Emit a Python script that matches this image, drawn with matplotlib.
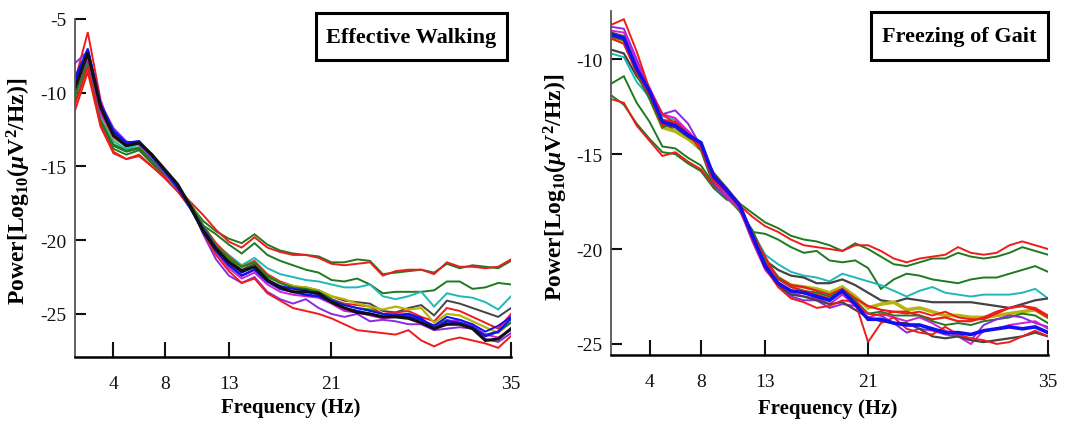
#!/usr/bin/env python3
# Power spectra per channel: effective walking vs freezing of gait

import matplotlib
matplotlib.use('Agg')
import matplotlib.pyplot as plt
from matplotlib.patches import Rectangle

FREQ_HZ = [1, 2, 3, 4, 5, 6, 7, 8, 9, 10, 11, 12, 13, 14, 15, 16, 17, 18,
           19, 20, 21, 22, 23, 24, 25, 26, 27, 28, 29, 30, 31, 32, 33, 34, 35]
X_TICKS = [4, 8, 13, 21, 35]
EW_Y_TICKS = [-25, -20, -15, -10, -5]
FOG_Y_TICKS = [-25, -20, -15, -10]

# Effective walking, log10 power per channel
EW_RED_UP = [-11.2, -8.6, -12.3, -14.1, -14.5, -14.2, -15.0, -15.7, -16.5, -17.4,
             -18.3, -19.3, -20.1, -20.5, -19.8, -20.5, -20.8, -21.0, -21.0, -21.2,
             -21.6, -21.7, -21.6, -21.5, -22.4, -22.1, -22.0, -22.0, -22.3, -21.5,
             -21.8, -21.8, -21.9, -21.8, -21.3]
EW_GREEN_UP = [-10.6, -8.2, -12.0, -13.8, -14.2, -13.9, -14.8, -15.6, -16.5, -17.6,
               -18.7, -19.4, -19.9, -20.2, -19.6, -20.3, -20.7, -20.9, -21.0, -21.1,
               -21.5, -21.5, -21.3, -21.4, -22.3, -22.2, -22.1, -22.0, -22.2, -21.6,
               -21.9, -21.7, -21.8, -21.9, -21.4]
EW_GREEN_MID = [-10.2, -7.9, -11.8, -13.5, -13.9, -13.7, -14.6, -15.5, -16.6, -17.8,
                -19.0, -19.6, -20.3, -20.9, -20.2, -21.0, -21.4, -21.7, -22.0, -22.2,
                -22.7, -22.8, -22.6, -23.0, -23.6, -23.5, -23.5, -23.5, -23.4, -22.8,
                -22.8, -23.3, -23.2, -22.9, -23.0]
EW_CYAN = [-9.9, -7.6, -11.5, -13.3, -13.8, -13.5, -14.5, -15.5, -16.6, -17.9,
           -19.3, -20.3, -21.0, -21.7, -21.2, -21.9, -22.3, -22.5, -22.7, -22.8,
           -23.0, -23.2, -23.2, -23.0, -23.8, -24.0, -23.8, -23.5, -24.5, -23.6,
           -23.8, -23.9, -24.2, -24.7, -23.8]
EW_GRAY = [-9.6, -7.5, -11.3, -13.1, -13.6, -13.4, -14.4, -15.4, -16.5, -17.8,
           -19.4, -20.5, -21.3, -22.0, -21.6, -22.5, -22.9, -23.2, -23.2, -23.4,
           -23.8, -24.1, -24.2, -24.3, -24.8, -24.9, -24.6, -24.4, -25.1, -24.1,
           -24.3, -24.6, -24.9, -25.2, -24.6]
EW_RED_PEAK = [-9.2, -5.9, -10.5, -12.9, -13.5, -13.4, -14.3, -15.4, -16.4, -17.6,
               -19.0, -20.2, -21.1, -21.8, -21.4, -22.3, -22.8, -23.1, -23.3, -23.4,
               -24.0, -24.3, -24.4, -24.5, -25.0, -24.9, -24.8, -25.2, -25.5, -24.6,
               -24.8, -25.2, -25.6, -26.0, -25.0]
EW_YELLOW = [-9.4, -7.6, -11.4, -13.1, -13.6, -13.4, -14.4, -15.3, -16.3, -17.5,
             -19.0, -20.4, -21.2, -21.8, -21.5, -22.4, -22.9, -23.1, -23.2, -23.4,
             -23.8, -24.0, -24.3, -24.5, -24.7, -24.5, -24.7, -24.6, -25.6, -25.0,
             -25.1, -25.5, -25.9, -26.3, -25.5]
EW_BLUE = [-9.0, -7.1, -10.8, -12.6, -13.4, -13.3, -14.2, -15.3, -16.4, -17.8,
           -19.4, -20.7, -21.7, -22.4, -22.0, -22.8, -23.3, -23.5, -23.7, -23.8,
           -24.2, -24.6, -24.8, -25.0, -25.2, -25.1, -25.0, -25.3, -26.0, -25.5,
           -25.6, -25.9, -26.5, -26.2, -25.3]
EW_BLACK = [-9.7, -7.3, -11.0, -12.9, -13.6, -13.4, -14.2, -15.2, -16.2, -17.7,
            -19.4, -20.6, -21.5, -22.1, -21.8, -22.7, -23.2, -23.5, -23.5, -23.6,
            -24.2, -24.6, -24.9, -25.0, -25.2, -25.2, -25.3, -25.6, -26.0, -25.7,
            -25.7, -26.0, -26.8, -26.7, -26.0]
EW_MAGENTA = [-9.8, -7.6, -11.4, -13.0, -13.5, -13.5, -14.4, -15.4, -16.5, -17.7,
              -19.4, -20.8, -21.9, -22.6, -22.2, -23.0, -23.5, -23.7, -23.8, -23.9,
              -24.3, -24.8, -24.9, -25.1, -25.3, -25.2, -25.0, -25.5, -25.9, -25.5,
              -25.4, -25.8, -26.4, -26.6, -26.1]
EW_PURPLE = [-8.0, -7.2, -10.7, -12.4, -13.3, -13.5, -14.4, -15.4, -16.5, -17.6,
             -19.6, -21.3, -22.4, -22.9, -22.5, -23.5, -24.0, -24.3, -24.0, -24.6,
             -25.0, -25.2, -25.0, -25.5, -25.4, -25.5, -25.7, -25.7, -26.1, -26.0,
             -25.9, -26.0, -26.7, -26.9, -26.3]
EW_RED_LOW = [-10.8, -8.3, -12.2, -14.0, -14.5, -14.3, -15.0, -15.8, -16.7, -17.8,
              -19.5, -21.0, -22.1, -22.9, -22.6, -23.6, -24.1, -24.6, -24.8, -25.0,
              -25.3, -25.7, -26.1, -26.2, -26.3, -26.4, -26.1, -26.8, -27.2, -26.8,
              -26.6, -26.8, -27.0, -27.3, -26.5]
EW_GREEN_LOW = [-10.0, -7.8, -12.0, -13.6, -14.0, -13.8, -14.6, -15.5, -16.4, -17.5,
                -19.0, -20.4, -21.2, -21.8, -21.5, -22.4, -22.9, -23.2, -23.3, -23.5,
                -24.0, -24.4, -24.6, -24.7, -25.0, -25.0, -25.1, -25.4, -25.8, -25.4,
                -25.6, -25.9, -26.4, -26.2, -25.6]
EW_BLUE_2 = [-9.3, -7.0, -10.9, -12.7, -13.4, -13.3, -14.3, -15.3, -16.4, -17.7,
             -19.2, -20.5, -21.5, -22.2, -21.8, -22.7, -23.1, -23.3, -23.4, -23.7,
             -24.1, -24.4, -24.6, -24.8, -25.0, -25.1, -25.2, -25.4, -25.8, -25.2,
             -25.4, -25.7, -26.2, -25.8, -25.2]

# Freezing of gait, log10 power per channel
FOG_RED_UP = [-12.1, -12.3, -13.5, -14.3, -15.1, -14.9, -15.4, -15.8, -16.7, -17.2,
              -17.7, -18.3, -18.8, -19.1, -19.5, -19.8, -19.9, -20.0, -20.1, -19.8,
              -19.8, -20.1, -20.5, -20.7, -20.5, -20.4, -20.3, -19.9, -20.2, -20.3,
              -20.2, -19.8, -19.6, -19.8, -20.0]
FOG_GREEN_UP = [-11.9, -12.4, -13.4, -14.2, -14.9, -15.0, -15.5, -15.9, -16.8, -17.4,
                -17.6, -18.1, -18.6, -18.9, -19.3, -19.5, -19.6, -19.8, -20.1, -19.7,
                -20.0, -20.4, -20.8, -20.9, -20.7, -20.5, -20.5, -20.2, -20.4, -20.5,
                -20.4, -20.2, -19.9, -20.1, -20.3]
FOG_GREEN_MID = [-11.3, -10.9, -12.3, -13.3, -14.6, -14.7, -15.2, -15.6, -16.6, -17.3,
                 -18.0, -19.1, -19.2, -19.5, -19.9, -20.2, -20.1, -20.6, -20.7, -20.6,
                 -21.0, -22.1, -21.6, -21.3, -21.4, -21.6, -21.7, -21.8, -21.6, -21.5,
                 -21.5, -21.3, -21.1, -20.9, -21.2]
FOG_CYAN = [-9.7, -9.9, -11.2, -12.0, -13.0, -13.2, -13.9, -14.6, -16.2, -17.0,
            -17.9, -19.1, -20.3, -20.8, -21.2, -21.4, -21.5, -21.7, -21.3, -21.5,
            -21.7, -21.9, -22.2, -22.5, -22.2, -22.0, -22.3, -22.4, -22.5, -22.4,
            -22.4, -22.4, -22.3, -22.1, -22.6]
FOG_GRAY = [-9.5, -9.7, -10.9, -11.8, -13.3, -13.8, -14.2, -14.8, -16.0, -16.8,
            -17.6, -19.4, -20.6, -21.1, -21.4, -21.5, -21.8, -21.8, -21.6, -21.9,
            -22.3, -22.7, -22.8, -22.6, -22.7, -22.8, -22.8, -22.8, -22.8, -22.9,
            -23.0, -23.1, -22.9, -22.7, -22.6]
FOG_RED_PEAK = [-8.2, -7.9, -9.6, -11.6, -12.9, -13.4, -14.0, -14.6, -16.3, -16.9,
                -17.6, -19.2, -20.4, -21.6, -22.0, -22.2, -22.4, -22.6, -22.3, -22.8,
                -23.4, -23.5, -23.3, -23.4, -23.3, -23.5, -23.3, -23.6, -23.7, -23.7,
                -23.4, -23.1, -23.0, -23.1, -23.5]
FOG_YELLOW = [-8.9, -9.1, -10.6, -12.0, -13.6, -13.8, -14.2, -14.7, -16.5, -17.2,
              -17.9, -19.2, -20.7, -21.5, -21.9, -22.0, -22.1, -22.3, -22.0, -22.5,
              -23.1, -22.9, -22.8, -23.2, -23.1, -23.3, -23.5, -23.5, -23.6, -23.6,
              -23.5, -23.4, -23.3, -23.2, -23.6]
FOG_BLUE = [-8.7, -8.9, -10.5, -11.7, -13.3, -13.5, -14.0, -14.4, -16.2, -16.9,
            -17.7, -19.3, -20.9, -21.8, -22.2, -22.3, -22.5, -22.7, -22.2, -22.9,
            -23.7, -23.7, -23.9, -24.0, -24.0, -24.2, -24.4, -24.4, -24.5, -24.3,
            -24.2, -24.1, -24.2, -24.1, -24.4]
FOG_BLACK = [-8.6, -8.8, -10.6, -11.8, -13.4, -13.6, -14.1, -14.5, -16.1, -16.8,
             -17.7, -19.3, -20.8, -21.9, -22.4, -22.5, -22.7, -22.9, -22.8, -23.2,
             -23.6, -23.8, -23.9, -23.9, -24.2, -24.6, -24.7, -24.6, -24.8, -24.9,
             -24.8, -24.7, -24.6, -24.4, -24.6]
FOG_MAGENTA = [-8.5, -8.6, -10.2, -11.5, -12.9, -13.1, -13.8, -14.5, -16.4, -17.2,
               -17.9, -19.6, -21.1, -21.9, -22.3, -22.5, -22.6, -22.9, -22.4, -23.0,
               -23.6, -23.4, -23.6, -23.8, -23.6, -23.9, -24.3, -24.6, -25.0, -24.3,
               -24.2, -24.0, -23.9, -23.8, -24.2]
FOG_PURPLE = [-8.3, -8.4, -10.0, -11.6, -12.9, -12.7, -13.4, -14.6, -16.6, -17.3,
              -17.9, -19.3, -20.9, -21.9, -22.5, -22.7, -22.7, -23.1, -22.9, -23.0,
              -23.4, -23.5, -23.9, -24.4, -24.2, -24.3, -24.5, -24.6, -24.8, -24.0,
              -23.7, -23.5, -23.6, -23.9, -24.1]
FOG_RED_LOW = [-8.9, -9.2, -10.7, -11.9, -13.5, -13.3, -14.0, -14.7, -16.5, -17.0,
               -17.8, -19.5, -21.0, -22.0, -22.6, -22.8, -23.1, -23.0, -22.7, -22.8,
               -24.9, -23.9, -23.6, -24.2, -24.4, -24.5, -24.1, -24.5, -24.7, -24.8,
               -25.0, -24.9, -24.6, -24.3, -24.6]
FOG_GREEN_LOW = [-8.8, -9.0, -10.8, -12.1, -13.6, -13.3, -13.9, -14.8, -16.7, -17.1,
                 -18.0, -19.0, -20.5, -21.5, -22.0, -22.2, -22.3, -22.5, -22.2, -22.7,
                 -23.4, -23.3, -23.5, -23.5, -23.5, -23.8, -24.0, -23.9, -24.0, -23.8,
                 -23.7, -23.6, -23.4, -23.5, -23.9]
FOG_RED_2 = [-8.8, -9.0, -10.4, -11.8, -13.2, -13.3, -13.8, -14.6, -16.4, -17.0,
             -17.8, -19.4, -20.7, -21.5, -21.9, -22.0, -22.2, -22.4, -22.1, -22.6,
             -23.0, -23.2, -23.3, -23.3, -23.5, -23.7, -23.6, -23.8, -23.8, -23.6,
             -23.3, -23.1, -23.0, -23.2, -23.6]

RED = '#ee1c1c'
GREEN = '#1f7a1f'
BLUE = '#1010f0'
BLACK = '#111111'
GRAY = '#444444'
CYAN = '#1fb8b8'
MAGENTA = '#d21fd2'
PURPLE = '#8a2be2'
YELLOW = '#b5b50e'

SERIF = ['Liberation Serif', 'DejaVu Serif']

plt.rcParams['font.family'] = SERIF
plt.rcParams['mathtext.fontset'] = 'custom'
plt.rcParams['mathtext.rm'] = 'Liberation Serif:bold'
plt.rcParams['mathtext.bf'] = 'Liberation Serif:bold'
plt.rcParams['mathtext.it'] = 'Liberation Serif:bold:italic'


def draw_panel(ax, lines, ylim, yticks, title, box, title_xy):
    """
    Plots every channel spectrum and styles the axes like the MATLAB figure.
    """
    for values, color, lw in lines:
        ax.plot(FREQ_HZ, values, color=color, lw=lw, solid_joinstyle='miter')
    ax.set_xlim(1, 35)
    ax.set_ylim(*ylim)
    ax.set_xticks(X_TICKS)
    ax.set_yticks(yticks)
    ax.set_yticklabels([str(t) for t in yticks])
    ax.tick_params(axis='x', direction='in', length=11, width=1.5,
                   labelsize=14, pad=13, colors=BLACK)
    ax.tick_params(axis='y', direction='in', length=8, width=1.5,
                   labelsize=14, pad=6, colors=BLACK)
    for side in ('top', 'right'):
        ax.spines[side].set_visible(False)
    ax.spines['bottom'].set_linewidth(1.8)
    ax.spines['left'].set_linewidth(1.3)
    ax.spines['left'].set_color('#555555')

    ax.set_xlabel('Frequency (Hz)', fontsize=15, fontweight='bold')
    ax.set_ylabel(r'Power[Log$_{10}$($\mu$V$^2$/Hz)]', fontsize=17,
                  fontweight='bold')

    x0, y0, w, h = box
    ax.add_patch(Rectangle((x0, y0), w, h, transform=ax.transAxes,
                           fill=False, lw=2.2, ec='black', clip_on=False))
    ax.text(title_xy[0], title_xy[1], title, transform=ax.transAxes,
            ha='center', va='center', fontsize=16, fontweight='bold')


def main():
    fig = plt.figure(figsize=(10.77, 4.31), dpi=100)
    ax_ew = fig.add_axes([0.0696, 0.1694, 0.4049, 0.7842])
    ax_fog = fig.add_axes([0.5673, 0.1740, 0.4058, 0.7980])

    ew_lines = [
        (EW_GREEN_UP, GREEN, 1.4),
        (EW_RED_UP, RED, 1.4),
        (EW_GREEN_MID, GREEN, 1.4),
        (EW_CYAN, CYAN, 1.4),
        (EW_GRAY, GRAY, 1.4),
        (EW_RED_PEAK, RED, 1.4),
        (EW_YELLOW, YELLOW, 1.6),
        (EW_GREEN_LOW, GREEN, 1.4),
        (EW_MAGENTA, MAGENTA, 1.4),
        (EW_PURPLE, PURPLE, 1.4),
        (EW_RED_LOW, RED, 1.4),
        (EW_BLUE_2, BLUE, 1.4),
        (EW_BLUE, BLUE, 1.8),
        (EW_BLACK, BLACK, 2.2),
    ]
    fog_lines = [
        (FOG_GREEN_UP, GREEN, 1.4),
        (FOG_RED_UP, RED, 1.4),
        (FOG_GREEN_MID, GREEN, 1.4),
        (FOG_CYAN, CYAN, 1.4),
        (FOG_GRAY, GRAY, 1.6),
        (FOG_YELLOW, YELLOW, 2.6),
        (FOG_RED_2, RED, 1.6),
        (FOG_GREEN_LOW, GREEN, 1.4),
        (FOG_PURPLE, PURPLE, 1.4),
        (FOG_MAGENTA, MAGENTA, 1.4),
        (FOG_BLACK, GRAY, 1.6),
        (FOG_RED_LOW, RED, 1.4),
        (FOG_RED_PEAK, RED, 1.4),
        (FOG_BLUE, BLUE, 2.6),
    ]

    draw_panel(ax_ew, ew_lines, (-27.92, -5.0), EW_Y_TICKS,
               'Effective Walking', (0.553, 0.879, 0.438, 0.139),
               (0.772, 0.948))
    draw_panel(ax_fog, fog_lines, (-25.58, -7.47), FOG_Y_TICKS,
               'Freezing of Gait', (0.595, 0.858, 0.405, 0.139),
               (0.797, 0.927))

    ax_ew.yaxis.set_label_coords(-0.097, 0.494)
    ax_fog.yaxis.set_label_coords(-0.094, 0.491)
    ax_ew.xaxis.set_label_coords(0.495, -0.118)
    ax_fog.xaxis.set_label_coords(0.495, -0.125)

    fig.savefig('out.png', dpi=100, facecolor='white')


if __name__ == '__main__':
    main()
